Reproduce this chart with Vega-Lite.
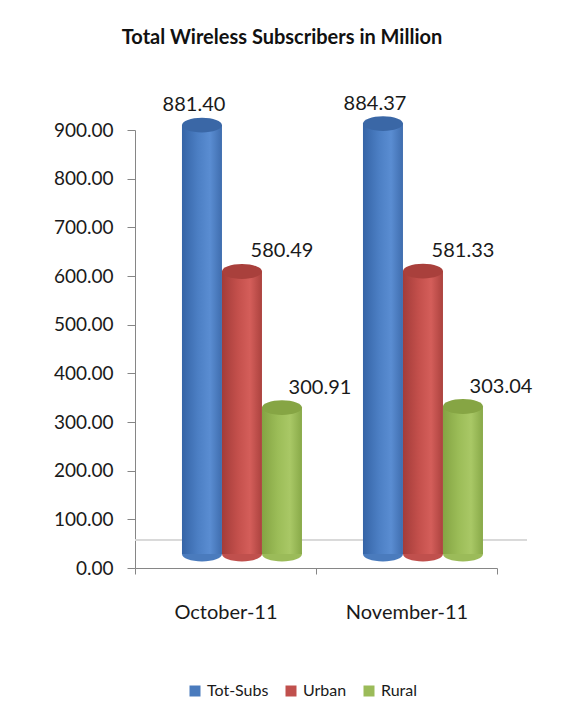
{
  "$schema": "https://vega.github.io/schema/vega-lite/v6.json",
  "width": 362,
  "height": 438,
  "autosize": {"type": "none"},
  "padding": {"left": 135, "top": 130, "right": 76, "bottom": 153},
  "background": "white",
  "config": {"font": "Lato", "view": {"stroke": null}},
  "title": {"text": "Total Wireless Subscribers in Million", "fontSize": 20, "fontWeight": "bold", "font": "Lato", "color": "#111111", "anchor": "middle", "dx": -34, "offset": 46},
  "data": {"values": [
    {"month": "October-11", "series": "Tot-Subs", "value": 881.40},
    {"month": "October-11", "series": "Urban", "value": 580.49},
    {"month": "October-11", "series": "Rural", "value": 300.91},
    {"month": "November-11", "series": "Tot-Subs", "value": 884.37},
    {"month": "November-11", "series": "Urban", "value": 581.33},
    {"month": "November-11", "series": "Rural", "value": 303.04}
  ]},
  "layer": [
    {
      "mark": {"type": "rule", "color": "#d9d9d9", "strokeWidth": 1, "yOffset": -28, "xOffset": 30, "x2Offset": 30},
      "encoding": {"y": {"datum": 0, "type": "quantitative"}}
    },
    {
      "encoding": {
        "x": {"field": "month", "type": "nominal", "sort": ["October-11", "November-11"],
          "scale": {"paddingInner": 0, "paddingOuter": 0},
          "axis": {"title": null, "labelAngle": 0, "labelFontSize": 20, "labelColor": "#1a1a1a", "labelPadding": 28, "tickSize": 6, "tickBand": "extent", "tickColor": "#868686", "domainColor": "#868686"}},
        "xOffset": {"field": "series", "type": "nominal",
          "scale": {"domain": ["Tot-Subs", "Urban", "Rural"], "paddingInner": 0, "paddingOuter": 0.7625, "align": 0.77}},
        "y": {"field": "value", "type": "quantitative",
          "scale": {"domain": [0, 900], "nice": false},
          "axis": {"title": null, "values": [0, 100, 200, 300, 400, 500, 600, 700, 800, 900], "format": ".2f", "labelFontSize": 19, "labelColor": "#1a1a1a", "labelPadding": 14, "tickSize": 8, "tickColor": "#868686", "domainColor": "#868686", "grid": false}}
      },
      "layer": [
        {
          "mark": {"type": "point", "shape": "M-1,0A1,0.37,0,1,0,1,0A1,0.37,0,1,0,-1,0Z", "size": 1600, "filled": true, "opacity": 1, "strokeWidth": 0, "yOffset": -14},
          "encoding": {
            "y": {"datum": 0, "type": "quantitative"},
            "color": {"field": "series", "type": "nominal",
              "scale": {"domain": ["Tot-Subs", "Urban", "Rural"], "range": ["#4a7bbd", "#c0504d", "#9bbb59"]},
              "legend": {"orient": "none", "legendX": 52, "legendY": 553, "direction": "horizontal", "title": null, "symbolType": "square", "symbolSize": 121, "symbolStrokeWidth": 0, "labelFontSize": 16, "labelColor": "#1a1a1a", "columnPadding": 14, "labelOffset": 4}}
          }
        },
        {
          "transform": [{"filter": "datum.series == 'Tot-Subs'"}],
          "mark": {"type": "bar", "yOffset": -14, "y2Offset": -14,
            "color": {"gradient": "linear", "x1": 0, "y1": 0, "x2": 1, "y2": 0, "stops": [
              {"offset": 0, "color": "#3564a6"}, {"offset": 0.4, "color": "#4c7fc4"}, {"offset": 0.7, "color": "#5a8dd2"}, {"offset": 1, "color": "#3f6dae"}]}}
        },
        {
          "transform": [{"filter": "datum.series == 'Urban'"}],
          "mark": {"type": "bar", "yOffset": -14, "y2Offset": -14,
            "color": {"gradient": "linear", "x1": 0, "y1": 0, "x2": 1, "y2": 0, "stops": [
              {"offset": 0, "color": "#a33c39"}, {"offset": 0.4, "color": "#c4504c"}, {"offset": 0.7, "color": "#d45e5a"}, {"offset": 1, "color": "#ab423e"}]}}
        },
        {
          "transform": [{"filter": "datum.series == 'Rural'"}],
          "mark": {"type": "bar", "yOffset": -14, "y2Offset": -14,
            "color": {"gradient": "linear", "x1": 0, "y1": 0, "x2": 1, "y2": 0, "stops": [
              {"offset": 0, "color": "#84a443"}, {"offset": 0.4, "color": "#9cbd58"}, {"offset": 0.7, "color": "#a9c866"}, {"offset": 1, "color": "#88a948"}]}}
        },
        {
          "mark": {"type": "point", "shape": "M-1,0A1,0.37,0,1,0,1,0A1,0.37,0,1,0,-1,0Z", "size": 1600, "filled": true, "opacity": 1, "strokeWidth": 0, "yOffset": -14},
          "encoding": {
            "fill": {"field": "series", "type": "nominal",
              "scale": {"domain": ["Tot-Subs", "Urban", "Rural"], "range": ["#3a67a6", "#a9403c", "#86a544"]},
              "legend": null}
          }
        },
        {
          "transform": [{"filter": "datum.series == 'Tot-Subs'"}],
          "mark": {"type": "text", "dx": -8, "dy": -28, "baseline": "alphabetic", "fontSize": 20, "color": "#1a1a1a"},
          "encoding": {"text": {"field": "value", "type": "quantitative", "format": ".2f"}}
        },
        {
          "transform": [{"filter": "datum.series == 'Urban'"}],
          "mark": {"type": "text", "dx": 40, "dy": -28, "baseline": "alphabetic", "fontSize": 20, "color": "#1a1a1a"},
          "encoding": {"text": {"field": "value", "type": "quantitative", "format": ".2f"}}
        },
        {
          "transform": [{"filter": "datum.series == 'Rural'"}],
          "mark": {"type": "text", "dx": 38, "dy": -28, "baseline": "alphabetic", "fontSize": 20, "color": "#1a1a1a"},
          "encoding": {"text": {"field": "value", "type": "quantitative", "format": ".2f"}}
        }
      ]
    }
  ]
}
